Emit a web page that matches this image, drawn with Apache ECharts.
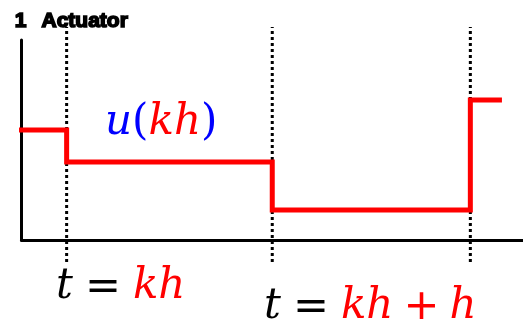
<!DOCTYPE html>
<html>
<head>
<meta charset="utf-8">
<style>
  html, body { margin: 0; padding: 0; background: #fff; }
  #chart { width: 523px; height: 322px; }
</style>
<script src="https://cdn.jsdelivr.net/npm/echarts@6/dist/echarts.min.js"></script>
</head>
<body>
<div id="chart"></div>
<script>
// Zero-order-hold actuator signal: value held constant between sampling instants
const sampleTimes = [9, 50, 89.5];             // sampling instants (dotted markers)
const stepTimes   = [-0.5, 9, 50, 89.5, 95.8]; // breakpoints of the held signal
const stepValues  = [55, 39, 15, 70, 70];      // held actuator level u(kh)
const markerSpan  = [-11, 106.5];              // vertical extent of the sample markers

const chart = echarts.init(document.getElementById('chart'), null, { renderer: 'canvas' });

const mathItalic  = { fontFamily: 'DejaVu Serif', fontStyle: 'italic', fontSize: 42, lineHeight: 50, verticalAlign: 'middle' };
const mathUpright = { fontFamily: 'DejaVu Serif', fontSize: 42, lineHeight: 50, verticalAlign: 'middle' };
const mathOp      = { fontFamily: 'DejaVu Sans', fontSize: 43, lineHeight: 50, verticalAlign: 'middle' };

const markerSeries = sampleTimes.map(t => ({
  type: 'line',
  data: [[t, markerSpan[0]], [t, markerSpan[1]]],
  symbol: 'none',
  clip: false,
  silent: true,
  lineStyle: { color: '#000', width: 3, type: [3, 3], cap: 'butt' },
  z: 1
}));

chart.setOption({
  animation: false,
  backgroundColor: '#fff',
  grid: { left: 21.5, right: 0, top: 40, bottom: 82, containLabel: false },
  xAxis: {
    type: 'value', min: 0, max: 100,
    axisLine: { show: true, lineStyle: { color: '#000', width: 3 } },
    axisTick: { show: false }, axisLabel: { show: false }, splitLine: { show: false }
  },
  yAxis: {
    type: 'value', min: 0, max: 100,
    axisLine: { show: true, lineStyle: { color: '#000', width: 3 } },
    axisTick: { show: false }, axisLabel: { show: false }, splitLine: { show: false }
  },
  series: [
    ...markerSeries,
    {
      type: 'line',
      step: 'end',
      data: stepTimes.map((t, i) => [t, stepValues[i]]),
      symbol: 'none',
      clip: false,
      lineStyle: { color: '#ff0000', width: 5, cap: 'butt', join: 'miter' },
      z: 3
    }
  ],
  graphic: [
    {
      type: 'text', left: 14, top: 10, z: 10,
      style: {
        text: '{n|1}{a|Actuator}',
        rich: {
          n: { fill: '#000', fontFamily: 'Liberation Sans', fontWeight: 'bold', fontSize: 21, padding: [0, 15, 0, 0], stroke: '#000', lineWidth: 1.6 },
          a: { fill: '#000', fontFamily: 'Liberation Sans', fontWeight: 'bold', fontSize: 21, stroke: '#000', lineWidth: 1.6 }
        }
      }
    },
    {
      type: 'text', left: 105, top: 102, z: 10,
      style: {
        text: '{u|u}{p|(}{k|kh}{p|)}',
        rich: {
          u: Object.assign({ fill: '#0000ff' }, mathItalic),
          p: Object.assign({ fill: '#0000ff' }, mathUpright),
          k: Object.assign({ fill: '#ff0000' }, mathItalic)
        }
      }
    },
    {
      type: 'text', left: 56, top: 266, z: 10,
      style: {
        text: '{t|t}{e|=}{k|kh}',
        rich: {
          t: Object.assign({ fill: '#000' }, mathItalic),
          e: Object.assign({ fill: '#000', padding: [0, 12, 0, 12] }, mathOp),
          k: Object.assign({ fill: '#ff0000' }, mathItalic)
        }
      }
    },
    {
      type: 'text', left: 264, top: 286, z: 10,
      style: {
        text: '{t|t}{e|=}{k|kh}{pl|+}{k|h}',
        rich: {
          t: Object.assign({ fill: '#000' }, mathItalic),
          e: Object.assign({ fill: '#000', padding: [0, 12, 0, 12] }, mathOp),
          k: Object.assign({ fill: '#ff0000' }, mathItalic),
          pl: Object.assign({ fill: '#ff0000', padding: [0, 10, 0, 10] }, mathOp)
        }
      }
    }
  ]
});
</script>
</body>
</html>
